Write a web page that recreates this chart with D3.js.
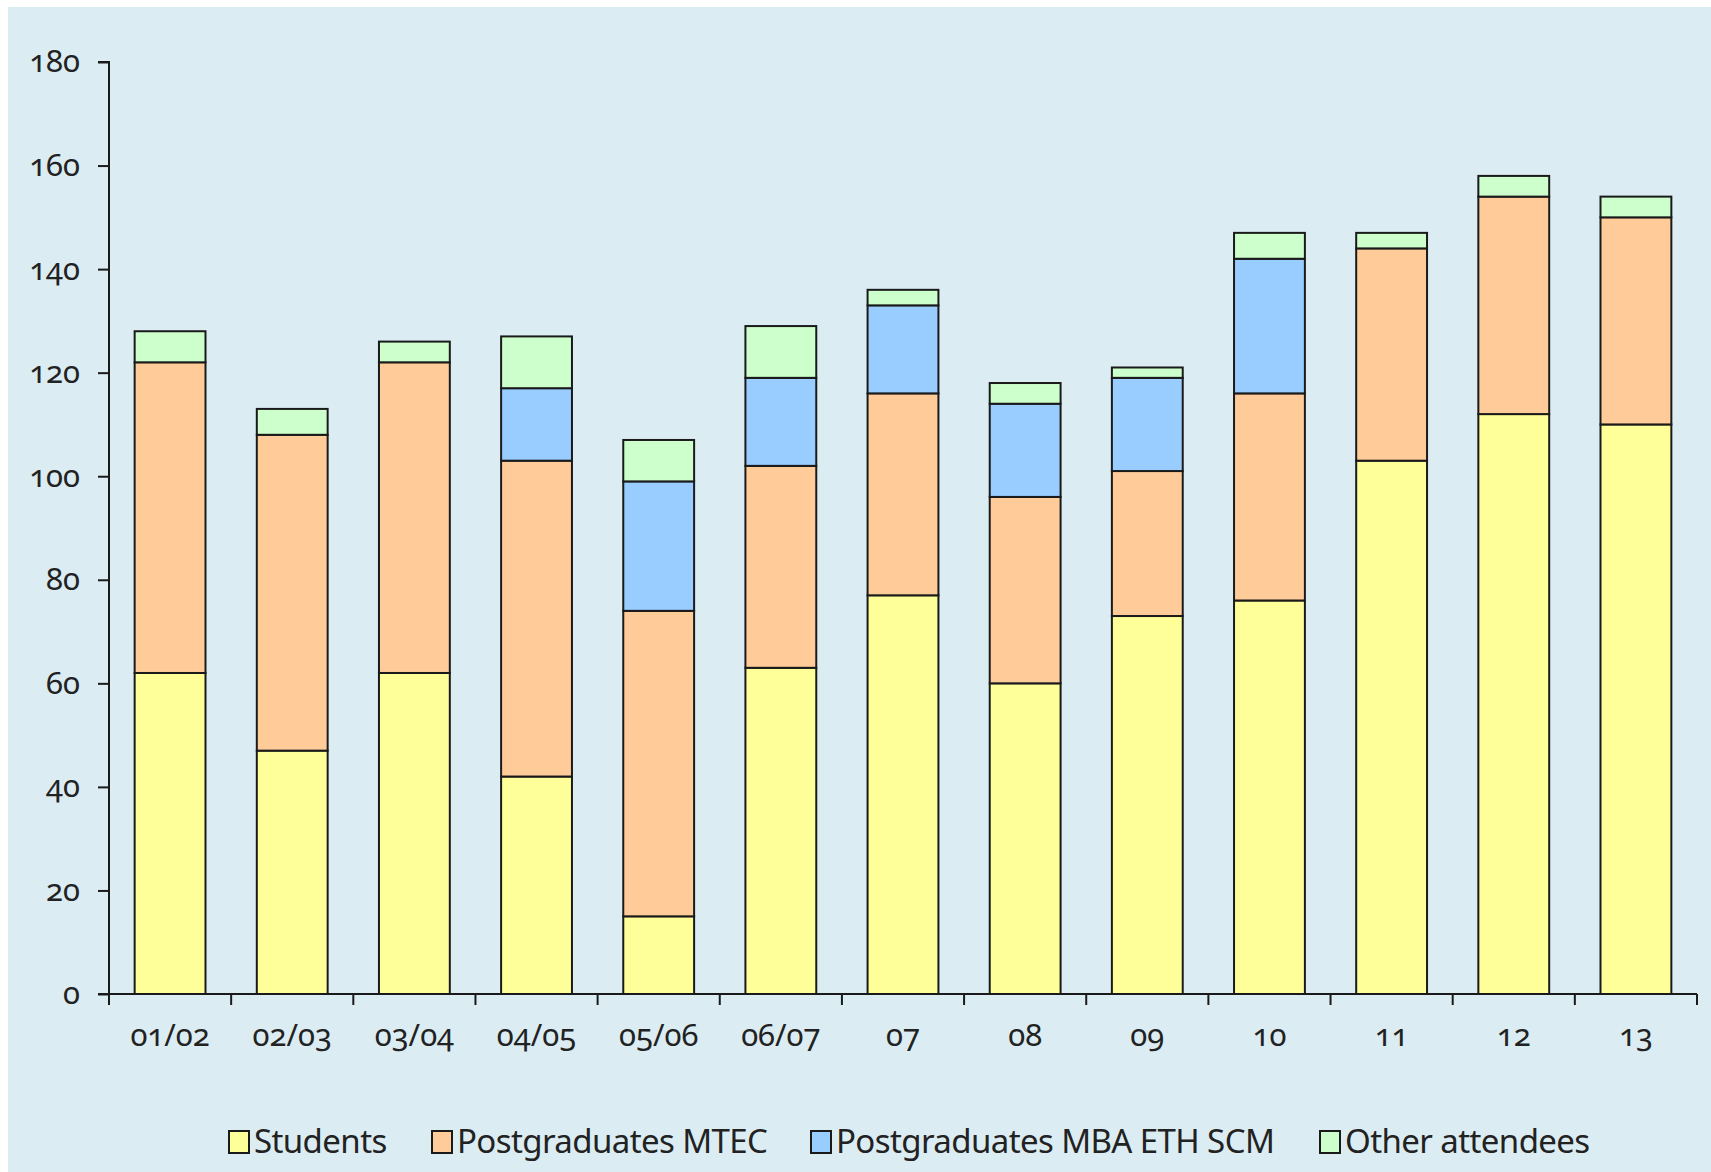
<!DOCTYPE html>
<html>
<head>
<meta charset="utf-8">
<script src="https://cdn.jsdelivr.net/npm/d3@7"></script>
<style>
  body { margin: 0; background: #fff; }
  svg text { font-family: "Noto Sans", "Open Sans", sans-serif; fill: #222; }
  .num { font-feature-settings: "onum" 1; }
</style>
</head>
<body>
<div id="chart"></div>
<script>
const years = ['01/02', '02/03', '03/04', '04/05', '05/06', '06/07', '07', '08', '09', '10', '11', '12', '13'];
const students = [62, 47, 62, 42, 15, 63, 77, 60, 73, 76, 103, 112, 110];
const mtec = [60, 61, 60, 61, 59, 39, 39, 36, 28, 40, 41, 42, 40];
const mba = [0, 0, 0, 14, 25, 17, 17, 18, 18, 26, 0, 0, 0];
const other = [6, 5, 4, 10, 8, 10, 3, 4, 2, 5, 3, 4, 4];
const seriesNames = ['Students', 'Postgraduates MTEC', 'Postgraduates MBA ETH SCM', 'Other attendees'];
const colors = ['#ffff99', '#ffcc99', '#99ccff', '#ccffcc'];
const yTicks = [0, 20, 40, 60, 80, 100, 120, 140, 160, 180];

const width = 1711;
const height = 1172;

const svg = d3.select('#chart')
    .append('svg')
    .attr('width', width)
    .attr('height', height);

svg.append('rect')
    .attr('x', 8)
    .attr('y', 7)
    .attr('width', width - 8)
    .attr('height', height - 7)
    .attr('fill', '#dbedf3');

const table = years.map((y, i) => ({
  year: y,
  s0: students[i], s1: mtec[i], s2: mba[i], s3: other[i]
}));
const stack = d3.stack().keys(['s0', 's1', 's2', 's3'])(table);

const x = d3.scaleBand()
    .domain(years)
    .range([109, 1697])
    .paddingInner(0.42)
    .paddingOuter(0.21);

const y = d3.scaleLinear()
    .domain([0, 180])
    .range([994, 62]);

// bars
svg.append('g')
  .selectAll('g')
  .data(stack)
  .join('g')
    .attr('fill', (d, i) => colors[i])
  .selectAll('rect')
  .data(d => d.filter(p => p[1] > p[0]))
  .join('rect')
    .attr('x', d => x(d.data.year))
    .attr('y', d => y(d[1]))
    .attr('width', x.bandwidth())
    .attr('height', d => y(d[0]) - y(d[1]))
    .attr('stroke', '#1a1a1a')
    .attr('stroke-width', 2);

// y axis
const yAxis = svg.append('g')
    .attr('transform', 'translate(109,0)')
    .call(d3.axisLeft(y).tickValues(yTicks).tickSize(11).tickPadding(18));
yAxis.select('.domain').attr('stroke', '#1a1a1a').attr('stroke-width', 2).attr('d', 'M-11,' + y(180) + 'H0V' + y(0));
yAxis.selectAll('.tick line').attr('stroke', '#1a1a1a').attr('stroke-width', 2);
yAxis.selectAll('text').attr('class', 'num').style('font-size', '31px').attr('fill', '#222');

// x axis
const xAxis = svg.append('g')
    .attr('transform', 'translate(0,' + y(0) + ')')
    .call(d3.axisBottom(x).tickSize(0).tickPadding(30));
xAxis.select('.domain').attr('stroke', '#1a1a1a').attr('stroke-width', 2).attr('d', 'M98,0H1697');
xAxis.selectAll('text').attr('class', 'num').style('font-size', '31px').attr('fill', '#222');

const step = x.step();
const bounds = d3.range(years.length + 1).map(i => x(years[0]) - x.paddingOuter() * step + i * step);
xAxis.selectAll('.bound')
  .data(bounds)
  .join('line')
    .attr('class', 'bound')
    .attr('x1', d => d)
    .attr('x2', d => d)
    .attr('y1', 0)
    .attr('y2', 11)
    .attr('stroke', '#1a1a1a')
    .attr('stroke-width', 2);

// legend
const legendX = [229, 432, 811, 1320];
const legend = svg.append('g')
  .selectAll('g')
  .data(seriesNames)
  .join('g')
    .attr('transform', (d, i) => 'translate(' + legendX[i] + ',1131)');
legend.append('rect')
    .attr('width', 20)
    .attr('height', 22)
    .attr('fill', (d, i) => colors[i])
    .attr('stroke', '#1a1a1a')
    .attr('stroke-width', 2);
legend.append('text')
    .attr('x', 25)
    .attr('y', 22)
    .style('font-size', '33px')
    .style('letter-spacing', '-0.6px')
    .text(d => d);
</script>
</body>
</html>
